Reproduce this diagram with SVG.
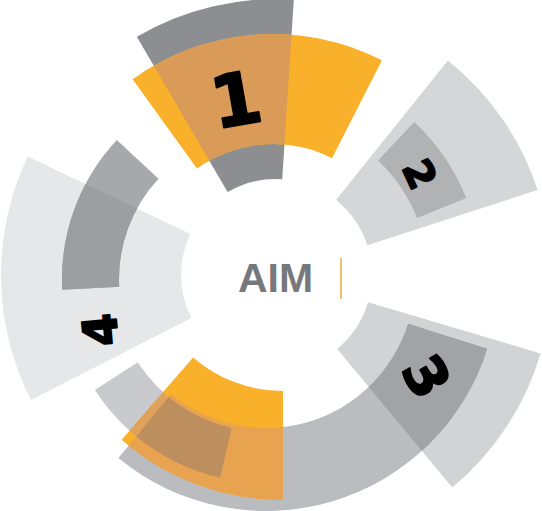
<svg xmlns="http://www.w3.org/2000/svg" width="542" height="511" viewBox="0 0 542 511">
<style>
.num{font-family:"DejaVu Sans","Liberation Sans",sans-serif;font-weight:bold;fill:#000;stroke:#000;stroke-width:2;stroke-linejoin:round;text-anchor:middle}
.aim{font-family:"Liberation Sans",Arial,sans-serif;font-weight:bold;font-size:41px;fill:#77787b}
</style>
<defs>
<path id="pS4" d="M 31.0 399.9 A 275 275 0 0 1 27.8 156.6 L 190.3 234.1 A 95 95 0 0 0 191.4 318.1 Z"/>
<path id="pB4" d="M 62.3 289.7 A 204 204 0 0 1 116.8 139.9 L 158.5 178.7 A 147 147 0 0 0 119.2 286.7 Z"/>
<path id="pG1" d="M 136.8 36.7 A 276 276 0 0 1 293.8 -0.4 L 282.2 179.2 A 96 96 0 0 0 227.6 192.1 Z"/>
<path id="pO1" d="M 132.6 79.3 A 240 240 0 0 1 382.0 60.2 L 332.0 158.2 A 130 130 0 0 0 196.9 168.6 Z"/>
<path id="pS2" d="M 447.9 60.4 A 275 275 0 0 1 537.6 190.0 L 367.3 245.3 A 96 96 0 0 0 336.0 200.1 Z"/>
<path id="pX2" d="M 414.4 122.1 A 216 216 0 0 1 466.3 198.1 L 417.1 217.9 A 163 163 0 0 0 378.0 160.6 Z"/>
<path id="pS3" d="M 540.6 353.4 A 276 276 0 0 1 452.3 487.4 L 337.3 348.9 A 96 96 0 0 0 368.0 302.3 Z"/>
<path id="pBand" d="M 487.3 348.8 A 232 232 0 0 1 118.4 458.0 L 171.2 394.0 A 149 149 0 0 0 408.1 323.8 Z"/>
<path id="pLeft" d="M 220.1 477.8 A 204 204 0 0 1 94.9 390.1 L 137.7 362.3 A 153 153 0 0 0 231.6 428.1 Z"/>
<path id="pOB" d="M 283 500 A 246 246 0 0 1 121.6 439.7 L 193.1 357.4 A 137 137 0 0 0 283 391 Z"/>
<clipPath id="cS4"><use href="#pS4"/></clipPath>
<clipPath id="cG1"><use href="#pG1"/></clipPath>
<clipPath id="cS3"><use href="#pS3"/></clipPath>
<clipPath id="cOB"><use href="#pOB"/></clipPath>
<clipPath id="cBand"><use href="#pBand"/></clipPath>
</defs>
<g id="seg4">
<use href="#pS4" fill="#e6e7e8"/>
<use href="#pB4" fill="#a7a8ab"/>
<use href="#pB4" fill="#9d9ea1" clip-path="url(#cS4)"/>
<text class="num" font-size="47" transform="translate(100,330) rotate(-95)" y="17">4</text>
</g>
<g id="seg1">
<use href="#pG1" fill="#8d8e92"/>
<use href="#pO1" fill="#f9b12b"/>
<use href="#pO1" fill="#d99b57" clip-path="url(#cG1)"/>
<text class="num" font-size="72" stroke-width="3" transform="translate(236,99) rotate(-10)" y="26">1</text>
</g>
<g id="seg2">
<use href="#pS2" fill="#d5d6d8"/>
<use href="#pX2" fill="#b1b2b4"/>
<text class="num" font-size="39" transform="translate(420,174) rotate(65)" y="14">2</text>
</g>
<g id="seg3">
<use href="#pS3" fill="#d2d3d5"/>
</g>
<g id="seg-bottom">
<use href="#pBand" fill="#bbbcc0"/>
<use href="#pBand" fill="#a2a3a6" clip-path="url(#cS3)"/>
<use href="#pLeft" fill="#c9cacd"/>
<use href="#pOB" fill="#f9b12b"/>
<g clip-path="url(#cOB)">
<use href="#pBand" fill="#e8a350"/>
<use href="#pLeft" fill="#dfa25c"/>
<use href="#pLeft" fill="#bd8e5e" clip-path="url(#cBand)"/>
</g>
</g>
<g id="seg3-label">
<text class="num" font-size="55" transform="translate(427,376) rotate(60)" y="20">3</text>
</g>
<g id="center">
<text class="aim" x="238" y="292">AIM</text>
<line x1="341" y1="258" x2="341" y2="299" stroke="#eec16a" stroke-width="2"/>
</g>
</svg>
